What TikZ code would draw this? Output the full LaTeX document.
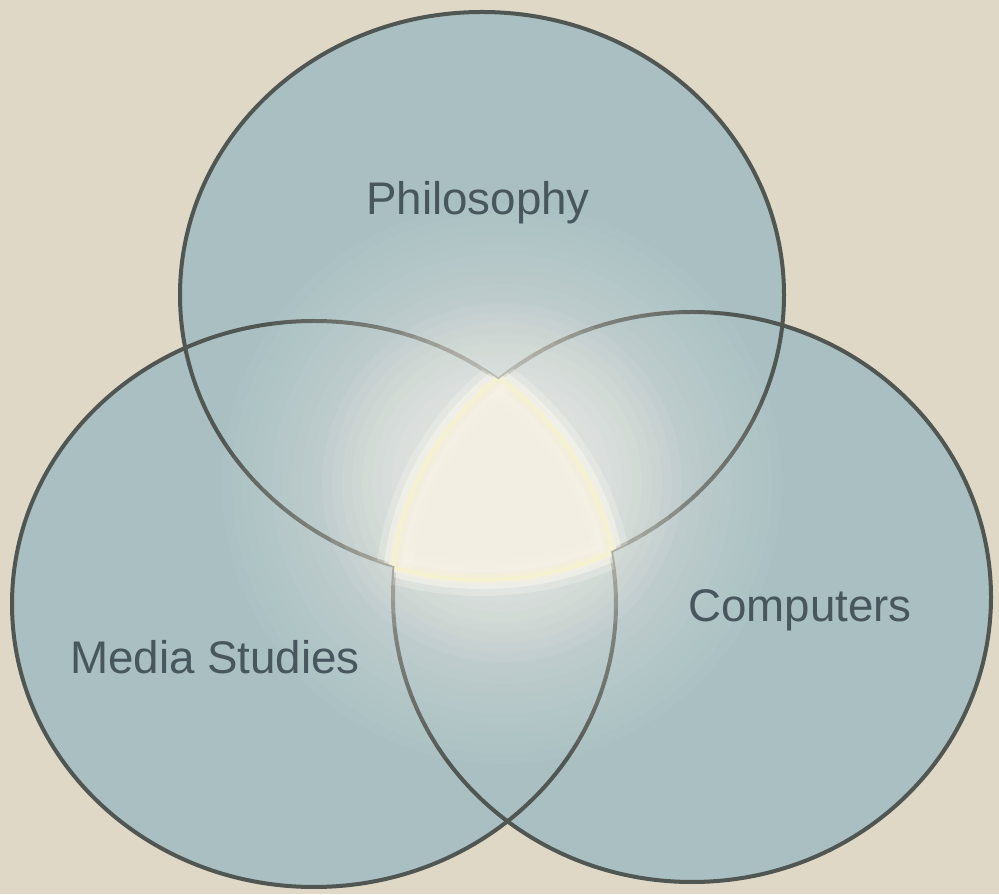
\documentclass[tikz,border=0pt]{standalone}
\usepackage{fontspec}
\setmainfont{Liberation Sans}
\definecolor{bg}{RGB}{223,216,199}
\definecolor{venn}{RGB}{169,191,194}
\definecolor{rimline}{RGB}{80,86,82}
\definecolor{glow}{RGB}{252,250,240}
\definecolor{cream}{RGB}{243,238,226}
\definecolor{rimyellow}{RGB}{245,243,205}
\definecolor{label}{RGB}{72,86,94}
\tikzset{
  vennfill/.style={fill=venn},
  vennline/.style={draw=rimline, line width=0.1cm},
  lbl/.style={text=label, font=\fontsize{32.5}{36}\selectfont, inner sep=0pt},
}
\newcommand{\topE}{(482,599) ellipse [x radius=302, y radius=283]}
\newcommand{\leftE}{(314,290) ellipse [x radius=302, y radius=283]}
\newcommand{\rightE}{(692,297) ellipse [x radius=299, y radius=285]}
\newcommand{\rimstrokes}[1]{%
  \path[draw=glow, line width=0.9cm, opacity=0.25] #1;
  \path[draw=glow, line width=0.55cm, opacity=0.45] #1;
  \path[draw=cream, line width=0.3cm] #1;
  \path[draw=rimyellow, line width=0.18cm, opacity=0.9] #1;
}
\begin{document}
\begin{tikzpicture}[x=0.025cm, y=0.025cm]
\fill[bg] (0,0) rectangle (999,894);
\useasboundingbox (0,0) rectangle (999,894);
% fills
\path[vennfill] \topE;
\path[vennfill] \leftE;
\path[vennfill] \rightE;
% outlines
\path[vennline] \topE;
\path[vennline] \leftE;
\path[vennline] \rightE;
% glow
\foreach \r in {280,270,...,20}
  \fill[glow, opacity=0.035] (502,410) circle (\r);
\foreach \r in {180,170,...,20}
  \fill[glow, opacity=0.06] (502,412) circle (\r);
% triple region
\begin{scope}
  \clip \topE;
  \clip \leftE;
  \clip \rightE;
  \fill[cream] (0,0) rectangle (999,894);
\end{scope}
\begin{scope}
  \clip \leftE; \clip \rightE;
  \rimstrokes{\topE}
\end{scope}
\begin{scope}
  \clip \topE; \clip \rightE;
  \rimstrokes{\leftE}
\end{scope}
\begin{scope}
  \clip \topE; \clip \leftE;
  \rimstrokes{\rightE}
\end{scope}
\begin{scope}
  \clip \topE; \clip \leftE; \clip \rightE;
  \fill[cream, opacity=0.6] (0,0) rectangle (999,894);
\end{scope}
% labels
\node[lbl] (philosophy) at (478,691) {Philosophy};
\node[lbl] (computers) at (800,284) {Computers};
\node[lbl] (media) at (215,237) {Media Studies};
\end{tikzpicture}
\end{document}
